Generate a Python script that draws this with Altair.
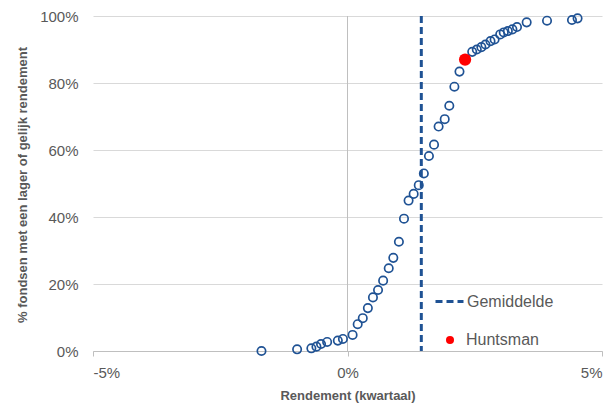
import altair as alt
import pandas as pd

# Fund returns (%, quarter) and cumulative share of funds (%)
fund_returns = [-1.69, -0.99, -0.71, -0.61, -0.52, -0.40, -0.19, -0.09, 0.10, 0.20,
                0.30, 0.40, 0.50, 0.60, 0.70, 0.81, 0.90, 1.01, 1.11, 1.20,
                1.30, 1.40, 1.50, 1.60, 1.70, 1.79, 1.91, 2.00, 2.10, 2.20,
                2.45, 2.54, 2.63, 2.71, 2.81, 2.89, 3.00, 3.07, 3.15, 3.24,
                3.33, 3.52, 3.92, 4.41, 4.52]
fund_shares = [0.0, 0.5, 0.8, 1.3, 2.1, 2.7, 3.1, 3.6, 4.8, 8.0,
               9.8, 12.8, 16.0, 18.2, 21.0, 24.7, 27.8, 32.6, 39.5, 44.9,
               46.9, 49.5, 53.0, 58.2, 61.6, 67.0, 69.2, 73.2, 78.9, 83.4,
               89.3, 90.0, 90.7, 91.5, 92.5, 93.0, 94.5, 95.1, 95.5, 96.0,
               96.7, 98.1, 98.6, 98.8, 99.3]
mean_return = [1.45]
mean_label = ["Gemiddelde"]
huntsman_return = [2.31]
huntsman_share = [87.0]
huntsman_label = ["Huntsman"]
x_ticks = [-5, 0, 5]
y_ticks = [0, 20, 40, 60, 80, 100]

BLUE = "#1f5294"
GRAY_TXT = "#595959"
GRID = "#d9d9d9"
AXIS = "#bfbfbf"
FONT = "Liberation Sans"

funds = pd.DataFrame({"r": fund_returns, "p": fund_shares})
mean_df = pd.DataFrame({"r": mean_return, "label": mean_label})
hunt_df = pd.DataFrame({"r": huntsman_return, "p": huntsman_share, "label": huntsman_label})
zero_df = pd.DataFrame({"r": [0]})

W, H = 509, 335

xscale = alt.Scale(domain=[-5, 5], nice=False, zero=False)
yscale = alt.Scale(domain=[0, 100], nice=False)

xaxis = alt.Axis(values=x_ticks, labelExpr="datum.value + '%'", grid=False,
                 domainColor=AXIS, tickColor=AXIS, tickSize=5, labelPadding=9,
                 labelFontSize=15, labelColor=GRAY_TXT, labelFont=FONT,
                 title="Rendement (kwartaal)", titleFontSize=13, titleFont=FONT,
                 titleFontWeight="bold", titleColor=GRAY_TXT,
                 titleY=44, titleBaseline="middle")
yaxis = alt.Axis(values=y_ticks, labelExpr="datum.value + '%'", grid=True,
                 gridColor=GRID, domain=False, ticks=False, labelPadding=15,
                 labelFontSize=15, labelColor=GRAY_TXT, labelFont=FONT,
                 title="% fondsen met een lager of gelijk rendement",
                 titleFontSize=13, titleFont=FONT, titleFontWeight="bold",
                 titleColor=GRAY_TXT, titleX=-71, titleY=H / 2 + 1,
                 titleAngle=-90, titleAlign="center", titleBaseline="middle")

zero_rule = alt.Chart(zero_df).mark_rule(color=AXIS, strokeWidth=1).encode(
    x=alt.X("r:Q", scale=xscale, axis=xaxis)
)

pts = alt.Chart(funds).mark_point(filled=False, color=BLUE, size=70, strokeWidth=1.7, opacity=1).encode(
    x=alt.X("r:Q", scale=xscale, axis=xaxis),
    y=alt.Y("p:Q", scale=yscale, axis=yaxis),
)

mean_rule = alt.Chart(mean_df).mark_rule(color=BLUE, strokeWidth=3).encode(
    x=alt.X("r:Q", scale=xscale),
    strokeDash=alt.StrokeDash(
        "label:N",
        scale=alt.Scale(domain=mean_label, range=[[7, 4]]),
        legend=alt.Legend(title=None, orient="none", legendX=341, legendY=270,
                          symbolType="stroke", symbolSize=784,
                          symbolStrokeColor=BLUE, symbolStrokeWidth=3,
                          labelOffset=2, labelFontSize=16, labelColor=GRAY_TXT,
                          labelFont=FONT, padding=0),
    ),
)

hunt = alt.Chart(hunt_df).mark_point(filled=True, size=150, opacity=1).encode(
    x=alt.X("r:Q", scale=xscale),
    y=alt.Y("p:Q", scale=yscale),
    color=alt.Color(
        "label:N",
        scale=alt.Scale(domain=huntsman_label, range=["#ff0000"]),
        legend=alt.Legend(title=None, orient="none", legendX=349, legendY=316,
                          symbolType="circle", symbolSize=64, symbolOpacity=1,
                          labelOffset=8, labelFontSize=16, labelColor=GRAY_TXT,
                          labelFont=FONT, padding=0),
    ),
)

chart = alt.layer(zero_rule, pts, mean_rule, hunt).properties(
    width=W, height=H,
    autosize=alt.AutoSizeParams(type="none"),
    padding={"left": 85, "top": 8, "right": 3, "bottom": 52},
).configure_view(stroke=None).resolve_legend(strokeDash="independent", color="independent")

chart.save("out.html", embed_options={"renderer": "svg", "actions": False})
